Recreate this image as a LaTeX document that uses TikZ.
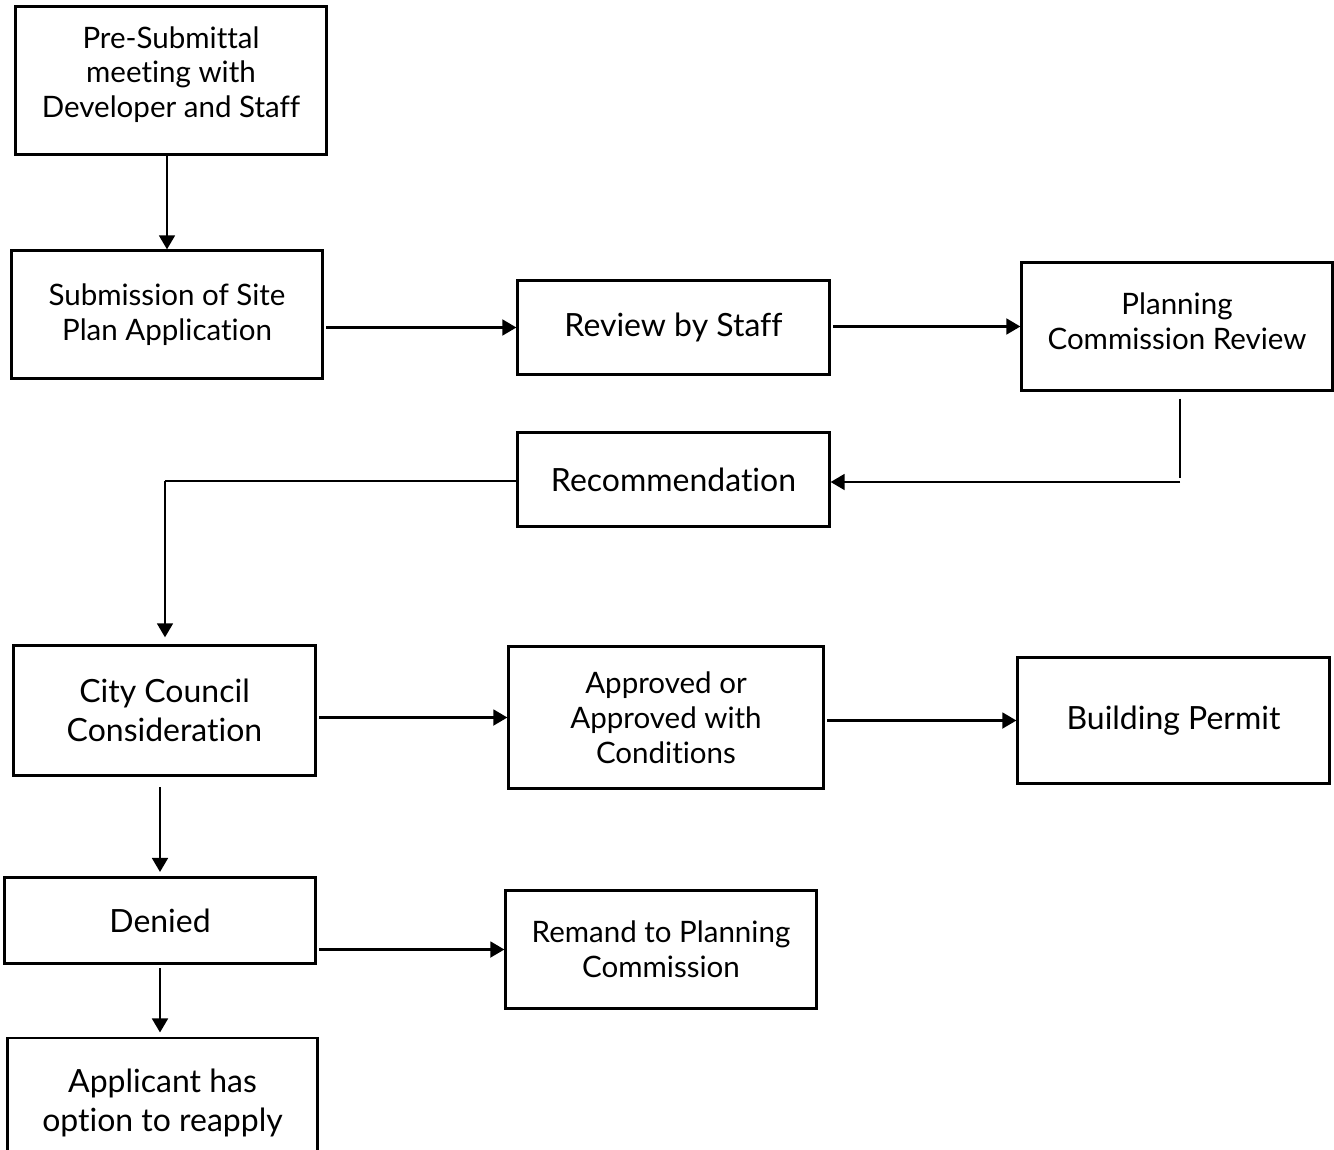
\documentclass[tikz,border=0pt]{standalone}
\usepackage{fontspec}
\setmainfont{Lato}[Ligatures=NoCommon]
\usetikzlibrary{arrows.meta,positioning}
\newcommand{\smallfs}{\fontsize{16.8}{19.8}\selectfont}
\newcommand{\largefs}{\fontsize{18.2}{22}\selectfont}

\begin{document}
\begin{tikzpicture}[x=0.02cm,y=-0.02cm,box/.style 2 args={rectangle,draw,line width=1.3pt,inner sep=0pt,align=center,minimum width=#1,minimum height=#2},arrow/.style={-{Triangle[length=8pt,width=9pt]},line width=1.4pt},thinline/.style={line width=0.8pt}]
\useasboundingbox (0,0) rectangle (1334,1149);
\node[box={6.22cm}{2.96cm},font=\smallfs](pre) at (171,80.5){Pre-Submittal\\meeting with\\Developer and Staff\\[-0.6em]};
\node[box={6.22cm}{2.56cm},font=\smallfs](sub) at (167,314.5){Submission of Site\\Plan Application};
\node[box={6.24cm}{1.88cm},font=\largefs](rev) at (673.5,327.5){Review by Staff};
\node[box={6.22cm}{2.56cm},font=\smallfs](pcr) at (1177,326.5){Planning\\Commission Review\\[-0.84em]};
\node[box={6.24cm}{1.88cm},font=\largefs](rec) at (673.5,479.5){Recommendation};
\node[box={6.04cm}{2.6cm},font=\largefs](ccc) at (164.5,710.5){City Council\\Consideration};
\node[box={6.3cm}{2.84cm},font=\smallfs](app) at (666,717.5){Approved or\\Approved with\\Conditions};
\node[box={6.24cm}{2.52cm},font=\largefs](bp) at (1173.5,720.5){Building Permit};
\node[box={6.22cm}{1.72cm},font=\largefs](den) at (160,920.5){Denied};
\node[box={6.22cm}{2.36cm},font=\smallfs](rem) at (661,949.5){Remand to Planning\\Commission};
\node[box={6.2cm}{2.6cm},font=\largefs](appl) at (162.5,1103){Applicant has\\option to reapply};
\coordinate (pcrturn) at (1180,482);
\coordinate (reccorner) at (165,481);
% connectors
\foreach \x/\y in {sub/rev,rev/pcr,ccc/app,app/bp,den/rem}{\draw[arrow,shorten <=1.5pt](\x.east|-\y.west)--(\y.west);}
\draw[arrow](pre.south-|sub)--(sub.north);
\draw[thinline]([yshift=-4pt]pcr.south-|pcrturn)--([yshift=2pt]pcrturn);
\draw[arrow](pcrturn)--(pcrturn-|rec.east);
\draw[thinline](rec.west|-reccorner)--(reccorner);
\draw[arrow,shorten >=4pt](reccorner)--(reccorner|-ccc.north);
\draw[arrow,shorten <=6pt,shorten >=2.5pt](ccc.south-|den)--(den.north);
\draw[arrow,shorten <=2pt,shorten >=2.5pt](den.south)--(den.south|-appl.north);
\end{tikzpicture}
\end{document}
